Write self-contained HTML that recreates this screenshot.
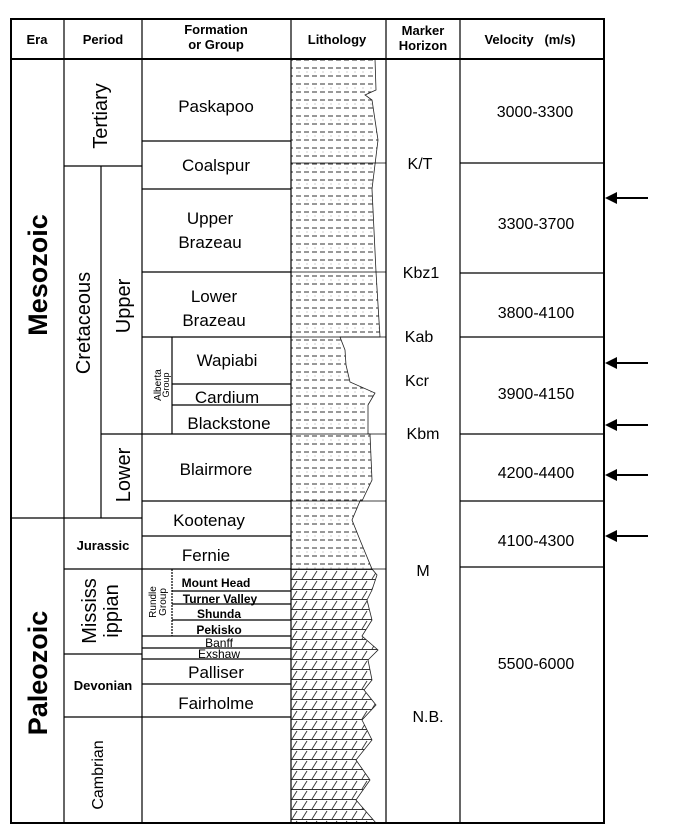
<!DOCTYPE html>
<html><head><meta charset="utf-8"><style>
html,body{margin:0;padding:0;background:#fff;}
svg{display:block;font-family:"Liberation Sans",Arial,sans-serif;}
</style></head><body>
<svg width="679" height="833" viewBox="0 0 679 833" xmlns="http://www.w3.org/2000/svg">
<defs>
<pattern id="clastic" width="8" height="16" patternUnits="userSpaceOnUse">
<line x1="0" y1="4" x2="5" y2="4" stroke="#333" stroke-width="1"/>
<line x1="0" y1="12" x2="5" y2="12" stroke="#333" stroke-width="1"/>
<circle cx="3" cy="8" r="0.5" fill="#777"/>
</pattern>
<pattern id="carb" width="10" height="10" patternUnits="userSpaceOnUse">
<line x1="0" y1="9.5" x2="10" y2="9.5" stroke="#333" stroke-width="1"/>
<line x1="2" y1="9" x2="7" y2="1" stroke="#333" stroke-width="0.9"/>
</pattern>
<clipPath id="lc"><polygon points="291,59 375,59 376,90 365,95 372,100 378,140 372,189 376,272 380,337 340,337 345,350 346,365 350,382 375,393 368,405 368,434 370,434 372,480 362,501 360,501 352,520 360,540 372,569 377,575 372,590 367,600 372,620 362,636 378,650 368,660 372,680 364,690 376,705 362,720 372,740 356,760 370,780 356,800 376,823 291,823"/></clipPath>
</defs>
<g clip-path="url(#lc)">
<rect x="291" y="59" width="95" height="510" fill="url(#clastic)"/>
<rect x="291" y="569" width="95" height="254" fill="url(#carb)"/>
</g>
<polyline points="375,59 376,90 365,95 372,100 378,140 372,189 376,272 380,337 340,337 345,350 346,365 350,382 375,393 368,405 368,434 370,434 372,480 362,501 360,501 352,520 360,540 372,569 377,575 372,590 367,600 372,620 362,636 378,650 368,660 372,680 364,690 376,705 362,720 372,740 356,760 370,780 356,800 376,823" fill="none" stroke="#222" stroke-width="0.8"/>
<g stroke="#000" stroke-width="1.2" fill="none">
<rect x="11" y="19" width="593" height="804" stroke-width="2"/>
<line x1="11" y1="59" x2="604" y2="59" stroke-width="2"/>
<line x1="64" y1="19" x2="64" y2="823"/>
<line x1="142" y1="19" x2="142" y2="823"/>
<line x1="291" y1="19" x2="291" y2="823"/>
<line x1="386" y1="19" x2="386" y2="823"/>
<line x1="460" y1="19" x2="460" y2="823"/>
<line x1="11" y1="518" x2="142" y2="518"/>
<line x1="64" y1="166" x2="142" y2="166"/>
<line x1="101" y1="166" x2="101" y2="518"/>
<line x1="101" y1="434" x2="142" y2="434"/>
<line x1="64" y1="569" x2="142" y2="569"/>
<line x1="64" y1="654" x2="142" y2="654"/>
<line x1="64" y1="717" x2="142" y2="717"/>
<line x1="142" y1="141" x2="291" y2="141"/>
<line x1="142" y1="189" x2="291" y2="189"/>
<line x1="142" y1="272" x2="291" y2="272"/>
<line x1="142" y1="337" x2="291" y2="337"/>
<line x1="172" y1="337" x2="172" y2="434"/>
<line x1="172" y1="384" x2="291" y2="384"/>
<line x1="172" y1="405" x2="291" y2="405"/>
<line x1="142" y1="434" x2="291" y2="434"/>
<line x1="142" y1="501" x2="291" y2="501"/>
<line x1="142" y1="536" x2="291" y2="536"/>
<line x1="142" y1="569" x2="291" y2="569"/>
<line x1="172" y1="569" x2="172" y2="636" stroke-dasharray="2,1"/>
<line x1="172" y1="591" x2="291" y2="591"/>
<line x1="172" y1="604" x2="291" y2="604"/>
<line x1="172" y1="620" x2="291" y2="620"/>
<line x1="142" y1="636" x2="291" y2="636"/>
<line x1="142" y1="648" x2="291" y2="648"/>
<line x1="142" y1="659" x2="291" y2="659"/>
<line x1="142" y1="684" x2="291" y2="684"/>
<line x1="142" y1="717" x2="291" y2="717"/>
<line x1="291" y1="163" x2="386" y2="163" stroke-width="0.8"/>
<line x1="291" y1="272" x2="386" y2="272" stroke-width="0.8"/>
<line x1="291" y1="337" x2="386" y2="337" stroke-width="0.8"/>
<line x1="291" y1="434" x2="386" y2="434" stroke-width="0.8"/>
<line x1="291" y1="501" x2="386" y2="501" stroke-width="0.8"/>
<line x1="291" y1="569" x2="386" y2="569" stroke-width="0.8"/>
<line x1="460" y1="163" x2="604" y2="163"/>
<line x1="460" y1="273" x2="604" y2="273"/>
<line x1="460" y1="337" x2="604" y2="337"/>
<line x1="460" y1="434" x2="604" y2="434"/>
<line x1="460" y1="501" x2="604" y2="501"/>
<line x1="460" y1="567" x2="604" y2="567"/>
</g>
<g stroke="#000" stroke-width="2">
<line x1="612" y1="198" x2="648" y2="198"/>
<line x1="612" y1="363" x2="648" y2="363"/>
<line x1="612" y1="425" x2="648" y2="425"/>
<line x1="612" y1="475" x2="648" y2="475"/>
<line x1="612" y1="536" x2="648" y2="536"/>
</g>
<g fill="#000">
<polygon points="605,198 617,192 617,204"/>
<polygon points="605,363 617,357 617,369"/>
<polygon points="605,425 617,419 617,431"/>
<polygon points="605,475 617,469 617,481"/>
<polygon points="605,536 617,530 617,542"/>
</g>
<g font-weight="bold" font-size="13" text-anchor="middle" fill="#000">
<text x="37" y="44">Era</text>
<text x="103" y="44">Period</text>
<text x="216" y="34">Formation</text>
<text x="216" y="49">or Group</text>
<text x="337" y="44">Lithology</text>
<text x="423" y="35">Marker</text>
<text x="423" y="50">Horizon</text>
<text x="530" y="44">Velocity&#160;&#160;&#160;(m/s)</text>
<text x="103" y="550">Jurassic</text>
<text x="103" y="690">Devonian</text>
</g>
<g font-weight="bold" font-size="27" text-anchor="middle">
<text transform="translate(47,275) rotate(-90)">Mesozoic</text>
<text transform="translate(47,673) rotate(-90)">Paleozoic</text>
</g>
<g font-size="20" text-anchor="middle">
<text transform="translate(107,116) rotate(-90)">Tertiary</text>
<text transform="translate(90,323) rotate(-90)">Cretaceous</text>
<text transform="translate(130,306) rotate(-90)">Upper</text>
<text transform="translate(130,475) rotate(-90)">Lower</text>
<text transform="translate(96,611) rotate(-90)">Mississ</text>
<text transform="translate(118,611) rotate(-90)">ippian</text>
<text transform="translate(103,775) rotate(-90)" font-size="16">Cambrian</text>
</g>
<g font-size="10" text-anchor="middle">
<text transform="translate(161,385) rotate(-90)">Alberta</text>
<text transform="translate(169,385) rotate(-90)" font-size="9">Group</text>
<text transform="translate(156,602) rotate(-90)">Rundle</text>
<text transform="translate(166,602) rotate(-90)">Group</text>
</g>
<g font-size="17" text-anchor="middle">
<text x="216" y="112">Paskapoo</text>
<text x="216" y="171">Coalspur</text>
<text x="210" y="224">Upper</text>
<text x="210" y="248">Brazeau</text>
<text x="214" y="302">Lower</text>
<text x="214" y="326">Brazeau</text>
<text x="227" y="366">Wapiabi</text>
<text x="227" y="403">Cardium</text>
<text x="229" y="429">Blackstone</text>
<text x="216" y="475">Blairmore</text>
<text x="209" y="526">Kootenay</text>
<text x="206" y="561">Fernie</text>
<text x="216" y="678">Palliser</text>
<text x="216" y="709">Fairholme</text>
</g>
<g font-size="12" font-weight="bold" text-anchor="middle">
<text x="216" y="587">Mount Head</text>
<text x="220" y="603">Turner Valley</text>
<text x="219" y="618">Shunda</text>
<text x="219" y="634">Pekisko</text>
<text x="219" y="647" font-weight="normal">Banff</text>
<text x="219" y="658" font-weight="normal">Exshaw</text>
</g>
<g font-size="16" text-anchor="middle">
<text x="420" y="169">K/T</text>
<text x="421" y="278">Kbz1</text>
<text x="419" y="342">Kab</text>
<text x="417" y="386">Kcr</text>
<text x="423" y="439">Kbm</text>
<text x="423" y="576">M</text>
<text x="428" y="722">N.B.</text>
<text x="535" y="117">3000-3300</text>
<text x="536" y="229">3300-3700</text>
<text x="536" y="318">3800-4100</text>
<text x="536" y="399">3900-4150</text>
<text x="536" y="478">4200-4400</text>
<text x="536" y="546">4100-4300</text>
<text x="536" y="669">5500-6000</text>
</g>
</svg>
</body></html>
